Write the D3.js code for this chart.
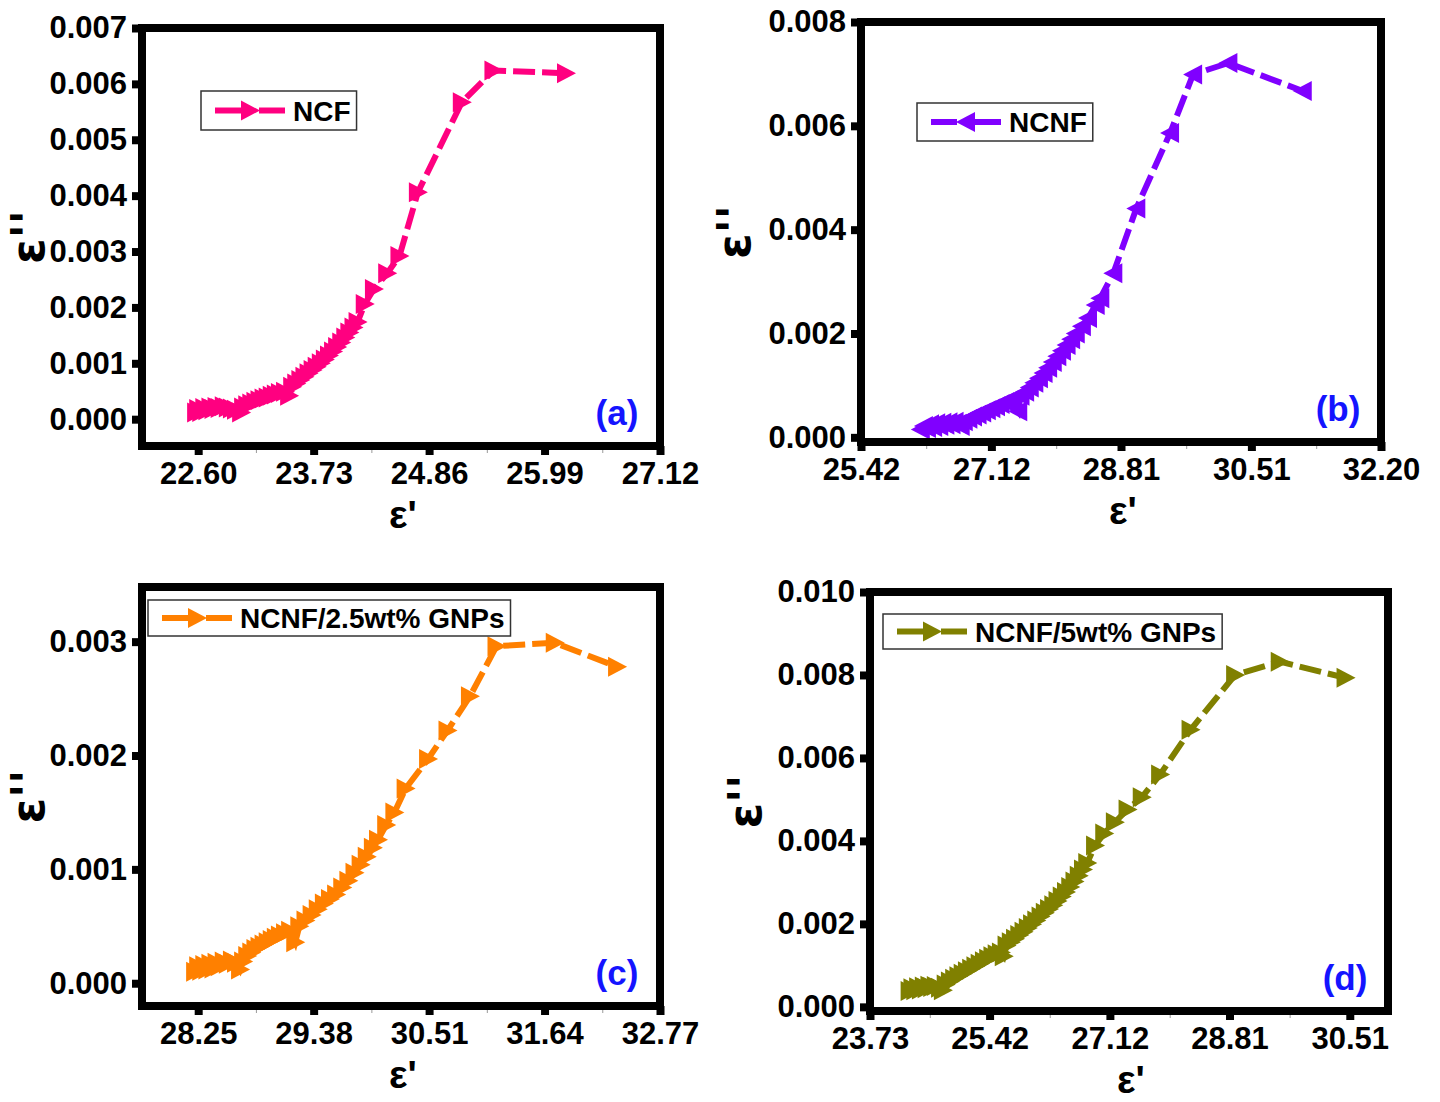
<!DOCTYPE html>
<meta charset="utf-8">
<head>
	<script src="https://d3js.org/d3.v7.min.js"></script>
	<style>
		body {
			margin: 0;
			background: #fff;
		}
		text {
			font-family: "Liberation Sans", Arial, sans-serif;
			font-weight: bold;
		}
		.axis .domain {
			display: none;
		}
		.axis .tick text {
			font-size: 31px;
			fill: #000;
		}
		.axis .tick line {
			stroke: #000;
			stroke-width: 8;
		}
		.minor .tick line {
			stroke: #999;
			stroke-width: 1;
		}
		.xtitle {
			font-size: 39px;
		}
		.ytitle {
			font-family: "DejaVu Sans", sans-serif;
			font-size: 46px;
		}
	</style>
</head>

<body>
	<div id="chart"></div>
</body>

<script type="text/javascript">

	// (a) NCF
	var ncfX = [22.58, 22.60, 22.63, 22.66, 22.69, 22.72, 22.75, 22.78, 22.81, 22.85, 22.89, 22.93, 22.97, 23.02,
		23.04, 23.08, 23.12, 23.16, 23.20, 23.24, 23.28, 23.32, 23.36, 23.40, 23.45, 23.49,
		23.52, 23.56, 23.60, 23.64, 23.68, 23.72, 23.76, 23.80, 23.84, 23.88, 23.92, 23.96, 24.00, 24.04, 24.08, 24.12, 24.16,
		24.23, 24.32, 24.45, 24.57, 24.75, 25.18, 25.49, 26.20];
	var ncfY = [0.00012, 0.00018, 0.00013, 0.00020, 0.00016, 0.00021, 0.00018, 0.00022, 0.00020, 0.00023, 0.00021, 0.00019, 0.00017, 0.00012,
		0.00021, 0.00025, 0.00028, 0.00031, 0.00034, 0.00037, 0.00039, 0.00042, 0.00044, 0.00047, 0.00049, 0.00042,
		0.00058, 0.00064, 0.00070, 0.00076, 0.00082, 0.00088, 0.00094, 0.00100, 0.00107, 0.00114, 0.00121, 0.00129, 0.00137, 0.00146, 0.00155, 0.00164, 0.00174,
		0.00206, 0.00233, 0.00261, 0.00292, 0.00406, 0.00567, 0.00624, 0.00619];

	// (b) NCNF
	var ncnfX = [26.20, 26.24, 26.28, 26.32, 26.36, 26.40, 26.44, 26.48, 26.52, 26.56, 26.60, 26.64, 26.68, 26.72,
		26.76, 26.82, 26.88, 26.94, 27.00, 27.06, 27.12, 27.18, 27.24, 27.30, 27.36, 27.47,
		27.50, 27.56, 27.62, 27.68, 27.74, 27.80, 27.86, 27.92, 27.98, 28.04, 28.10, 28.16, 28.22, 28.30, 28.38,
		28.48, 28.54, 28.71, 29.01, 29.45, 29.75, 30.21, 31.18];
	var ncnfY = [0.00015, 0.00022, 0.00018, 0.00025, 0.00020, 0.00027, 0.00022, 0.00028, 0.00024, 0.00029, 0.00025, 0.00030, 0.00026, 0.00022,
		0.00031, 0.00036, 0.00040, 0.00044, 0.00048, 0.00052, 0.00056, 0.00060, 0.00064, 0.00068, 0.00072, 0.00050,
		0.00080, 0.00088, 0.00096, 0.00105, 0.00114, 0.00124, 0.00134, 0.00145, 0.00156, 0.00167, 0.00178, 0.00189, 0.00200, 0.00214, 0.00230,
		0.00255, 0.00268, 0.00316, 0.00441, 0.00586, 0.00699, 0.00721, 0.00667];

	// (c) NCNF/2.5wt% GNPs
	var gnp25X = [28.22, 28.25, 28.28, 28.31, 28.34, 28.37, 28.40, 28.43, 28.46, 28.50, 28.54, 28.58, 28.62, 28.66,
		28.69, 28.73, 28.77, 28.81, 28.85, 28.89, 28.93, 28.97, 29.01, 29.05, 29.10, 29.15, 29.20,
		29.24, 29.30, 29.36, 29.42, 29.48, 29.54, 29.60, 29.66, 29.72, 29.78, 29.84, 29.90, 29.96, 30.01,
		30.09, 30.17, 30.28, 30.50, 30.69, 30.91, 31.17, 31.74, 32.35];
	var gnp25Y = [0.00010, 0.00015, 0.00011, 0.00016, 0.00012, 0.00017, 0.00013, 0.00018, 0.00015, 0.00019, 0.00017, 0.00020, 0.00018, 0.00012,
		0.00019, 0.00024, 0.00027, 0.00030, 0.00032, 0.00034, 0.00036, 0.00038, 0.00040, 0.00042, 0.00044, 0.00046, 0.00036,
		0.00050, 0.00055, 0.00060, 0.00065, 0.00070, 0.00074, 0.00078, 0.00084, 0.00090, 0.00097, 0.00104, 0.00111, 0.00119, 0.00126,
		0.00139, 0.00150, 0.00171, 0.00197, 0.00222, 0.00252, 0.00296, 0.00299, 0.00278];

	// (d) NCNF/5wt% GNPs
	var gnp5X = [24.29, 24.33, 24.37, 24.41, 24.45, 24.49, 24.53, 24.57, 24.61, 24.66, 24.72, 24.76,
		24.80, 24.86, 24.92, 24.98, 25.04, 25.10, 25.16, 25.22, 25.28, 25.34, 25.40, 25.46, 25.52, 25.58, 25.62,
		25.66, 25.72, 25.78, 25.84, 25.90, 25.96, 26.02, 26.08, 26.14, 26.20, 26.26, 26.32, 26.38, 26.44, 26.50, 26.56, 26.62, 26.68, 26.74, 26.80,
		26.91, 27.04, 27.19, 27.37, 27.57, 27.83, 28.26, 28.89, 29.52, 30.45];
	var gnp5Y = [0.00038, 0.00045, 0.00040, 0.00047, 0.00042, 0.00049, 0.00045, 0.00051, 0.00048, 0.00050, 0.00046, 0.00040,
		0.00054, 0.00061, 0.00068, 0.00074, 0.00080, 0.00086, 0.00092, 0.00098, 0.00104, 0.00110, 0.00116, 0.00122, 0.00127, 0.00131, 0.00122,
		0.00148, 0.00156, 0.00164, 0.00173, 0.00181, 0.00190, 0.00199, 0.00208, 0.00218, 0.00227, 0.00236, 0.00245, 0.00255, 0.00266, 0.00277, 0.00289, 0.00302, 0.00316, 0.00331, 0.00347,
		0.00389, 0.00418, 0.00445, 0.00476, 0.00505, 0.00560, 0.00668, 0.00800, 0.00832, 0.00793];

	// tick labels
	var aXTicks = [22.60, 23.73, 24.86, 25.99, 27.12];
	var aYTicks = [0.000, 0.001, 0.002, 0.003, 0.004, 0.005, 0.006, 0.007];
	var bXTicks = [25.42, 27.12, 28.81, 30.51, 32.20];
	var bYTicks = [0.000, 0.002, 0.004, 0.006, 0.008];
	var cXTicks = [28.25, 29.38, 30.51, 31.64, 32.77];
	var cYTicks = [0.000, 0.001, 0.002, 0.003];
	var dXTicks = [23.73, 25.42, 27.12, 28.81, 30.51];
	var dYTicks = [0.000, 0.002, 0.004, 0.006, 0.008, 0.010];

	var panels = [
		{
			left: 142, right: 660, top: 28, bottom: 446,
			xDomain: [22.05, 27.12], yDomain: [-0.00048, 0.007],
			xTicks: aXTicks, yTicks: aYTicks,
			xs: ncfX, ys: ncfY, color: "#ff0080", dir: "right",
			name: "NCF", legendDx: 59, legendDy: 63, legendH: 39,
			yTitleDx: -98, letter: "(a)"
		},
		{
			left: 861, right: 1381, top: 22, bottom: 442,
			xDomain: [25.42, 32.20], yDomain: [-0.00009, 0.008],
			xTicks: bXTicks, yTicks: bYTicks,
			xs: ncnfX, ys: ncnfY, color: "#8000ff", dir: "left",
			name: "NCNF", legendDx: 56, legendDy: 81, legendH: 38,
			yTitleDx: -111, letter: "(b)"
		},
		{
			left: 142, right: 660, top: 587, bottom: 1006,
			xDomain: [27.70, 32.77], yDomain: [-0.0002, 0.00348],
			xTicks: cXTicks, yTicks: cYTicks,
			xs: gnp25X, ys: gnp25Y, color: "#ff8000", dir: "right",
			name: "NCNF/2.5wt% GNPs", legendDx: 6, legendDy: 13, legendH: 36,
			yTitleDx: -98, letter: "(c)"
		},
		{
			left: 870, right: 1388, top: 592, bottom: 1011,
			xDomain: [23.73, 31.05], yDomain: [-0.0001, 0.010],
			xTicks: dXTicks, yTicks: dYTicks,
			xs: gnp5X, ys: gnp5Y, color: "#808000", dir: "right",
			name: "NCNF/5wt% GNPs", legendDx: 13, legendDy: 22, legendH: 35,
			yTitleDx: -109, letter: "(d)"
		}
	];

	var svg = d3.select("#chart").append("svg")
		.attr("width", 1440)
		.attr("height", 1102);

	function triangle(dir) {
		return dir == "left" ? "M9,-10L-10,0L9,10Z" : "M-9,-10L10,0L-9,10Z";
	}

	function drawPanel(p) {
		var x = d3.scaleLinear().domain(p.xDomain).range([p.left, p.right]);
		var y = d3.scaleLinear().domain(p.yDomain).range([p.bottom, p.top]);
		var g = svg.append("g");

		var minor = [];
		for (var i = 0; i < p.xTicks.length - 1; i++) {
			minor.push((p.xTicks[i] + p.xTicks[i + 1]) / 2);
		}
		g.append("g")
			.attr("class", "minor")
			.attr("transform", "translate(0," + p.bottom + ")")
			.call(d3.axisBottom(x).tickValues(minor).tickSize(7).tickFormat(""))
			.select(".domain").remove();

		var pts = p.xs.map(function(v, i) { return [v, p.ys[i]]; });

		g.append("path")
			.datum(pts)
			.attr("d", d3.line().x(function(d) { return x(d[0]); }).y(function(d) { return y(d[1]); }))
			.style("fill", "none")
			.style("stroke", p.color)
			.style("stroke-width", 6)
			.style("stroke-dasharray", "22,7");

		g.selectAll(".mk")
			.data(pts)
			.enter().append("path")
			.attr("class", "mk")
			.attr("transform", function(d) { return "translate(" + x(d[0]) + "," + y(d[1]) + ")"; })
			.attr("d", triangle(p.dir))
			.style("fill", p.color);

		g.append("rect")
			.attr("x", p.left)
			.attr("y", p.top)
			.attr("width", p.right - p.left)
			.attr("height", p.bottom - p.top)
			.style("fill", "none")
			.style("stroke", "#000")
			.style("stroke-width", 8);

		g.append("g")
			.attr("class", "axis")
			.attr("transform", "translate(0," + p.bottom + ")")
			.call(d3.axisBottom(x).tickValues(p.xTicks).tickSize(9).tickPadding(7).tickFormat(d3.format(".2f")));

		g.append("g")
			.attr("class", "axis")
			.attr("transform", "translate(" + p.left + ",0)")
			.call(d3.axisLeft(y).tickValues(p.yTicks).tickSize(10).tickPadding(5).tickFormat(d3.format(".3f")));

		// axis titles
		g.append("text")
			.attr("class", "xtitle")
			.attr("x", (p.left + p.right) / 2 + 2)
			.attr("y", p.bottom + 82)
			.style("text-anchor", "middle")
			.text("ε'");

		g.append("text")
			.attr("class", "ytitle")
			.attr("transform", "translate(" + (p.left + p.yTitleDx) + "," + ((p.top + p.bottom) / 2) + ")rotate(-90)")
			.style("text-anchor", "middle")
			.text("ε''");

		// legend
		var lg = g.append("g")
			.attr("transform", "translate(" + (p.left + p.legendDx) + "," + (p.top + p.legendDy) + ")");
		var box = lg.append("rect")
			.attr("height", p.legendH)
			.style("fill", "#fff")
			.style("stroke", "#333")
			.style("stroke-width", 1.5);
		[[14, 40], [58, 84]].forEach(function(s) {
			lg.append("line")
				.attr("x1", s[0]).attr("x2", s[1])
				.attr("y1", p.legendH / 2).attr("y2", p.legendH / 2)
				.style("stroke", p.color)
				.style("stroke-width", 6);
		});
		lg.append("path")
			.attr("transform", "translate(49," + (p.legendH / 2) + ")")
			.attr("d", triangle(p.dir))
			.style("fill", p.color);
		var lt = lg.append("text")
			.attr("x", 92)
			.attr("y", p.legendH / 2)
			.attr("dy", "0.36em")
			.style("font-size", "28px")
			.text(p.name);
		box.attr("width", 92 + lt.node().getComputedTextLength() + 6);

		g.append("text")
			.attr("x", p.right - 43)
			.attr("y", p.bottom - 21)
			.style("text-anchor", "middle")
			.style("font-size", "35px")
			.style("fill", "#1414ff")
			.text(p.letter);
	}

	panels.forEach(drawPanel);
</script>
